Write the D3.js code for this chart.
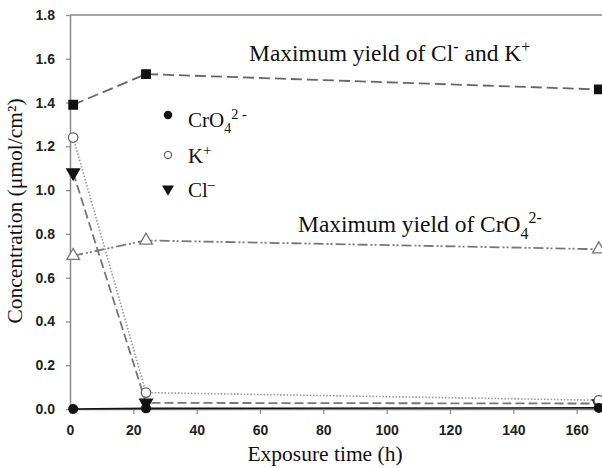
<!DOCTYPE html>
<html><head><meta charset="utf-8">
<script src="https://cdn.jsdelivr.net/npm/d3@7"></script>
<style>
html,body{margin:0;padding:0;background:#fff;}
svg{display:block;}
.tick text{font-family:"Liberation Sans",Arial,sans-serif;font-size:14px;font-weight:bold;fill:#222;}
.serif{font-family:"Liberation Serif","Times New Roman",serif;fill:#111;}
</style></head>
<body>
<svg id="c" width="602" height="468"></svg>
<script>
// ---- data ----
const time = [1, 24, 167];
const maxClK = [1.39, 1.53, 1.46];
const maxCrO4 = [0.70, 0.77, 0.73];
const kPlus = [1.24, 0.075, 0.04];
const clMinus = [1.08, 0.028, 0.025];
const crO4 = [0.0, 0.003, 0.005];
const xTicks = [0, 20, 40, 60, 80, 100, 120, 140, 160];
const yTicks = [0, 0.2, 0.4, 0.6, 0.8, 1.0, 1.2, 1.4, 1.6, 1.8];

const svg = d3.select("#c");
const x = d3.scaleLinear().domain([0, 168]).range([70, 602]);
const y = d3.scaleLinear().domain([0, 1.8]).range([409, 15]);

// frame top line
svg.append("line").attr("x1", x(0)).attr("x2", x(168)).attr("y1", y(1.8)).attr("y2", y(1.8))
  .attr("stroke", "#888").attr("stroke-width", 1.5);

const xa = svg.append("g").attr("transform", `translate(0,${y(0)})`)
  .call(d3.axisBottom(x).tickValues(xTicks).tickFormat(d3.format("d")).tickSize(5).tickPadding(11).tickSizeOuter(0));
const ya = svg.append("g").attr("transform", `translate(${x(0)},0)`)
  .call(d3.axisLeft(y).tickValues(yTicks).tickFormat(d3.format(".1f")).tickSize(4).tickPadding(11).tickSizeOuter(0));
[xa, ya].forEach(g => {
  g.select(".domain").attr("stroke", "#888").attr("stroke-width", 1.5);
  g.selectAll(".tick line").attr("stroke", "#888").attr("stroke-width", 1.2);
});

const line = d3.line().x((d, i) => x(time[i])).y(d => y(d));
function series(vals, color, dash, width) {
  svg.append("path").datum(vals).attr("d", line).attr("fill", "none")
    .attr("stroke", color).attr("stroke-width", width).attr("stroke-dasharray", dash);
}
series(maxClK, "#666", "11,5", 1.8);
series(maxCrO4, "#777", "10,3,2,2,2,3", 1.8);
series(kPlus, "#999", "1.5,1.8", 1.6);
series(clMinus, "#777", "9,4", 1.8);
series(crO4, "#111", null, 1.6);

const sym = (type, size) => d3.symbol().type(type).size(size)();
function markers(vals, path, fill, stroke, rot) {
  svg.append("g").selectAll("path").data(vals).join("path")
    .attr("d", path)
    .attr("transform", (d, i) => `translate(${x(time[i])},${y(d)})` + (rot ? ` rotate(${rot})` : ""))
    .attr("fill", fill).attr("stroke", stroke).attr("stroke-width", 1.3);
}
markers(maxClK, sym(d3.symbolSquare, 72), "#111", "#111");
markers(maxCrO4, sym(d3.symbolTriangle, 70), "#fff", "#777");
markers(clMinus, sym(d3.symbolTriangle, 70), "#111", "#111", 180);
markers(kPlus, sym(d3.symbolCircle, 70), "#fff", "#666");
markers(crO4, sym(d3.symbolCircle, 60), "#111", "#111");

// legend
const legend = [
  {path: sym(d3.symbolCircle, 40), fill: "#111", stroke: "#111", rot: 0, y: 115},
  {path: sym(d3.symbolCircle, 40), fill: "#fff", stroke: "#666", rot: 0, y: 155},
  {path: sym(d3.symbolTriangle, 40), fill: "#111", stroke: "#111", rot: 180, y: 189}
];
svg.append("g").selectAll("path").data(legend).join("path")
  .attr("d", d => d.path).attr("fill", d => d.fill).attr("stroke", d => d.stroke).attr("stroke-width", 1.3)
  .attr("transform", d => `translate(168,${d.y}) rotate(${d.rot})`);

function rich(xp, yp, parts, size) {
  const t = svg.append("text").attr("class", "serif").attr("x", xp).attr("y", yp).attr("font-size", size);
  let shift = 0;
  parts.forEach(p => {
    const [txt, kind] = p;
    const target = kind === "sub" ? 0.28 * size : kind === "sup" ? -0.38 * size : 0;
    const ts = t.append("tspan").text(txt).attr("dy", target - shift);
    if (kind) ts.attr("font-size", size * 0.68);
    shift = target;
  });
  return t;
}
rich(188, 127, [["CrO"], ["4", "sub"], ["2 -", "sup"]], 21);
rich(188, 163, [["K"], ["+", "sup"]], 21);
rich(188, 197, [["Cl"], ["\u2013", "sup"]], 21);

rich(249, 61, [["Maximum yield of Cl"], ["-", "sup"], [" and K"], ["+", "sup"]], 23.5);
rich(298, 232, [["Maximum yield of CrO"], ["4", "sub"], ["2-", "sup"]], 23.5);

svg.append("text").attr("class", "serif").attr("x", 325).attr("y", 461)
  .attr("text-anchor", "middle").attr("font-size", 21.5).text("Exposure time (h)");
svg.append("text").attr("class", "serif")
  .attr("transform", "translate(22,211) rotate(-90)")
  .attr("text-anchor", "middle").attr("font-size", 21.5).text("Concentration (\u03bcmol/cm\u00b2)");
</script>
</body></html>
